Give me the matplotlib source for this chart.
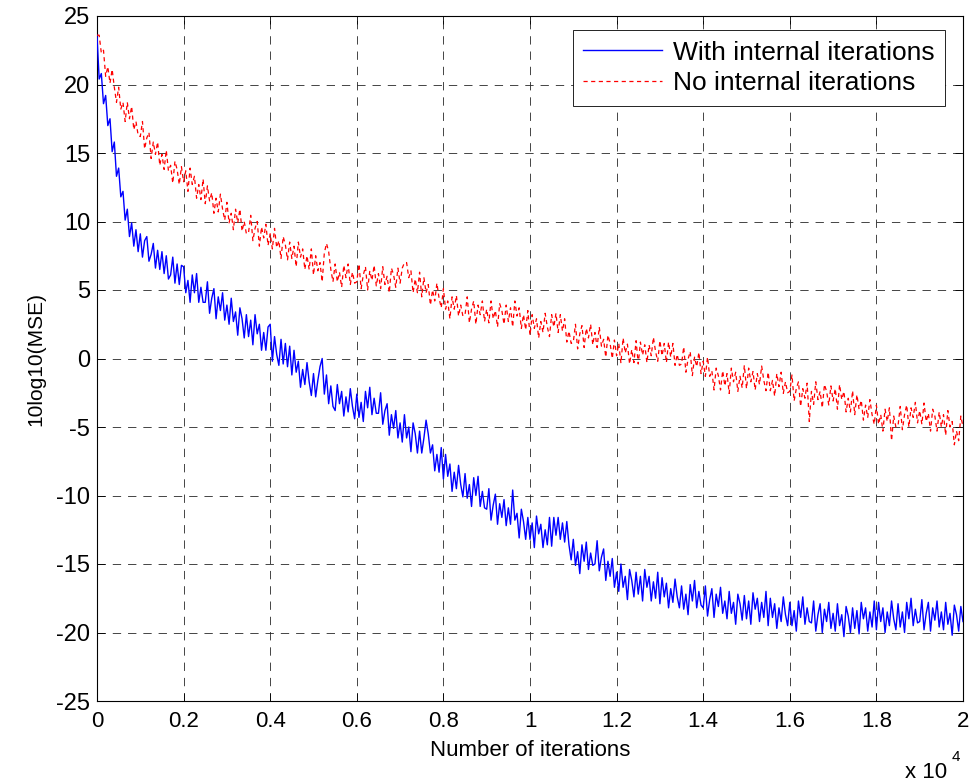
import matplotlib
matplotlib.use("Agg")
import matplotlib.pyplot as plt
import numpy as np

plt.rcParams['font.family'] = ['Liberation Sans', 'DejaVu Sans']
plt.rcParams['lines.scale_dashes'] = False
plt.rcParams['axes.unicode_minus'] = False

# Iteration index (one sample every 50 iterations)
iterations = np.arange(0, 20001, 50)

# 10log10(MSE) with internal iterations
with_internal = [
    23.6, 20.4, 20.8, 18.6, 19.2, 17.0, 17.5, 15.1, 15.8, 13.3,
    13.9, 11.8, 12.2, 10.1, 10.9, 8.9, 9.9, 8.2, 9.4, 7.8,
    9.1, 7.4, 8.6, 8.9, 7.1, 7.6, 8.4, 6.6, 7.9, 6.5,
    7.8, 6.2, 7.5, 5.8, 6.1, 7.4, 5.5, 6.9, 5.4, 6.8,
    6.7, 4.8, 5.7, 4.1, 6.1, 4.8, 6.2, 4.1, 5.2, 4.1,
    4.1, 5.6, 3.3, 4.4, 5.1, 2.9, 4.5, 3.5, 4.8, 2.8,
    3.9, 2.5, 4.4, 2.7, 3.4, 1.7, 3.7, 2.9, 1.5, 3.2,
    1.6, 2.8, 1.0, 3.2, 1.8, 2.5, 0.6, 1.9, 0.6, 2.3,
    2.5, -0.2, 1.6, 0.3, -0.5, 1.4, -0.4, 1.1, -0.6, 0.9,
    -1.2, 0.6, -1.0, -0.2, -2.1, -0.8, -1.9, -0.3, -1.7, -2.7,
    -1.1, -2.8, -1.6, -0.6, 0.0, -2.6, -1.2, -3.3, -2.0, -3.5,
    -3.8, -1.9, -3.3, -2.4, -4.2, -2.8, -3.9, -2.2, -3.5, -4.4,
    -2.6, -4.3, -3.2, -4.6, -2.4, -3.6, -2.1, -4.1, -2.9, -4.0,
    -4.0, -2.5, -4.8, -3.8, -3.3, -5.6, -4.1, -5.1, -3.8, -5.8,
    -4.7, -6.1, -4.1, -5.8, -5.0, -6.8, -4.7, -5.5, -6.9, -5.3,
    -6.9, -5.8, -4.5, -5.5, -6.9, -6.3, -8.2, -7.0, -8.3, -6.5,
    -8.8, -7.0, -8.6, -7.7, -9.7, -8.3, -9.5, -7.8, -9.2, -10.1,
    -8.4, -10.2, -9.2, -10.8, -8.7, -10.0, -8.6, -10.8, -9.7, -10.9,
    -11.0, -9.5, -11.8, -10.7, -9.9, -12.1, -10.6, -11.6, -10.3, -12.2,
    -10.9, -12.1, -9.6, -11.8, -11.3, -13.1, -11.0, -11.9, -13.2, -11.6,
    -13.2, -12.0, -13.8, -11.5, -12.8, -12.1, -13.8, -12.5, -13.6, -11.6,
    -13.7, -11.6, -12.9, -11.6, -13.2, -12.0, -13.4, -11.9, -13.6, -14.7,
    -13.2, -15.1, -14.1, -15.7, -13.6, -14.8, -13.4, -15.4, -14.2, -15.1,
    -15.0, -13.3, -15.5, -14.5, -13.9, -16.2, -14.8, -15.9, -14.6, -16.7,
    -15.6, -17.0, -15.0, -16.7, -15.9, -17.6, -15.4, -16.2, -17.4, -15.6,
    -17.2, -15.9, -17.7, -15.4, -16.7, -15.9, -17.7, -16.3, -17.5, -15.6,
    -17.9, -16.0, -17.4, -16.4, -18.2, -16.8, -17.8, -16.1, -17.4, -18.2,
    -16.6, -18.3, -17.2, -18.7, -16.5, -17.7, -16.2, -18.2, -17.0, -18.0,
    -18.2, -16.6, -18.8, -17.6, -16.8, -18.9, -17.2, -18.1, -16.7, -18.6,
    -17.7, -19.0, -17.0, -18.6, -17.8, -19.4, -17.2, -17.9, -19.1, -17.3,
    -19.0, -17.7, -19.4, -17.1, -18.3, -17.5, -19.2, -17.8, -18.9, -17.0,
    -19.5, -17.5, -18.9, -17.9, -19.7, -18.2, -19.2, -17.4, -18.7, -19.5,
    -17.8, -19.5, -18.4, -19.9, -17.7, -18.9, -17.4, -19.4, -18.2, -19.2,
    -19.3, -17.7, -19.9, -18.7, -17.9, -20.0, -18.3, -19.2, -17.8, -19.7,
    -18.6, -19.9, -17.9, -19.5, -18.7, -20.3, -18.1, -18.8, -20.0, -18.2,
    -19.7, -18.4, -20.1, -17.8, -19.0, -18.2, -19.9, -18.5, -19.6, -17.7,
    -19.8, -17.8, -19.2, -18.2, -20.0, -18.5, -19.5, -17.7, -19.0, -19.8,
    -17.9, -19.6, -18.5, -20.0, -17.8, -19.0, -17.5, -19.5, -18.3, -19.3,
    -19.2, -17.6, -19.8, -18.6, -17.8, -19.9, -18.2, -19.1, -17.7, -19.6,
    -18.5, -19.8, -17.8, -19.4, -18.6, -20.2, -18.0, -18.7, -19.9, -18.1,
    -19.2,
]

# 10log10(MSE) without internal iterations
no_internal = [
    23.6, 23.6, 22.3, 22.5, 20.6, 21.3, 20.1, 21.1, 19.8, 18.7,
    19.8, 18.2, 18.7, 17.3, 18.7, 17.5, 18.4, 16.7, 17.3, 16.3,
    16.2, 17.3, 15.3, 16.1, 16.5, 14.6, 15.8, 14.9, 15.8, 14.1,
    14.9, 13.8, 15.2, 13.7, 14.1, 12.8, 14.4, 13.8, 12.7, 14.0,
    12.9, 13.7, 12.2, 13.9, 12.7, 13.3, 11.7, 12.7, 11.6, 13.1,
    11.3, 12.6, 11.5, 12.1, 10.6, 11.7, 10.7, 12.0, 10.9, 10.1,
    11.4, 9.9, 10.6, 9.4, 10.9, 9.9, 10.9, 9.3, 10.0, 9.1,
    9.2, 10.45, 8.6, 9.5, 10.0, 8.2, 9.6, 8.8, 9.8, 8.25,
    9.1, 8.0, 9.5, 8.1, 8.6, 7.3, 8.9, 8.3, 7.2, 8.5,
    7.3, 8.2, 6.7, 8.5, 7.4, 8.0, 6.5, 7.5, 6.5, 8.0,
    6.1, 7.5, 6.4, 7.0, 5.6, 7.7, 8.4, 7.8, 6.5, 5.6,
    6.9, 5.6, 6.3, 5.2, 6.8, 5.9, 6.9, 5.4, 6.3, 5.5,
    5.6, 6.9, 5.1, 6.1, 6.7, 5.0, 6.4, 5.7, 6.8, 5.3,
    6.2, 5.1, 6.7, 5.4, 6.0, 4.8, 6.6, 6.1, 5.2, 6.6,
    5.5, 6.6, 7.0, 7.0, 5.9, 6.4, 4.8, 5.8, 4.8, 6.3,
    4.5, 5.9, 4.8, 5.4, 3.9, 5.0, 4.2, 5.5, 4.4, 3.7,
    5.1, 3.6, 4.2, 2.9, 4.5, 3.6, 4.6, 3.1, 3.9, 3.1,
    3.2, 4.5, 2.6, 3.6, 4.2, 2.5, 3.9, 3.2, 4.2, 2.7,
    3.6, 2.6, 4.2, 2.9, 3.5, 2.3, 4.0, 3.5, 2.5, 3.9,
    2.7, 3.7, 2.3, 4.2, 3.1, 3.7, 2.2, 3.2, 2.1, 3.5,
    1.7, 3.2, 2.2, 2.9, 1.5, 2.7, 1.9, 3.3, 2.3, 1.6,
    3.2, 2.3, 3.3, 1.9, 3.2, 2.0, 2.9, 1.2, 2.0, 1.1,
    1.2, 2.5, 0.7, 1.8, 2.4, 0.8, 2.2, 1.5, 2.5, 1.0,
    1.9, 0.8, 2.3, 0.9, 1.4, 0.1, 1.7, 1.1, 0.0, 1.35,
    0.2, 1.1, -0.35, 1.5, 0.4, 1.05, -0.4, 0.65, -0.3, 1.3,
    -0.4, 1.2, 0.25, 1.0, -0.3, 1.0, 0.2, 1.55, 0.5, -0.2,
    1.3, 0.2, 1.1, -0.3, 1.2, 0.1, 1.1, -0.5, 0.3, -0.5,
    -0.4, 0.85, -1.0, -0.05, 0.5, -1.25, 0.1, -0.6, 0.45, -1.1,
    -0.2, -1.3, 0.1, -1.3, -0.9, -2.3, -0.7, -1.25, -2.3, -0.9,
    -2.0, -1.1, -2.55, -0.7, -1.7, -1.0, -2.4, -1.3, -2.15, -0.5,
    -2.2, -0.7, -1.7, -0.95, -2.3, -1.1, -1.9, -0.55, -1.6, -2.35,
    -1.0, -2.35, -1.6, -2.75, -1.1, -2.05, -1.0, -2.55, -1.7, -2.5,
    -2.4, -1.2, -3.1, -2.2, -1.7, -3.5, -2.2, -2.9, -1.8, -4.6,
    -2.4, -3.35, -1.7, -3.0, -2.4, -3.6, -1.9, -2.4, -3.4, -2.0,
    -3.1, -2.2, -3.7, -1.9, -3.0, -2.4, -3.9, -2.9, -3.9, -2.35,
    -4.1, -2.65, -3.7, -3.05, -4.5, -3.4, -4.3, -3.0, -4.1, -4.8,
    -3.4, -4.8, -4.1, -5.3, -3.7, -4.6, -3.6, -6.0, -4.2, -5.0,
    -4.9, -3.5, -5.2, -4.1, -3.4, -5.0, -3.6, -4.3, -3.2, -4.7,
    -3.8, -4.8, -3.25, -4.6, -4.0, -5.3, -3.7, -4.2, -5.3, -3.9,
    -5.0, -4.1, -5.6, -3.8, -5.0, -4.6, -6.3, -5.3, -6.0, -4.2,
    -5.0,
]

x_tick_values = list(range(0, 20001, 2000))
x_tick_labels = ['0', '0.2', '0.4', '0.6', '0.8', '1', '1.2', '1.4', '1.6', '1.8', '2']
y_tick_values = list(range(-25, 26, 5))

W, H = 978, 784
fig = plt.figure(figsize=(W / 100, H / 100), dpi=100)
ax = fig.add_axes([97 / W, 1 - 701 / H, 866 / W, 685 / H])

ax.plot(iterations, with_internal, color='#0000ff', lw=1.0,
        label='With internal iterations', zorder=3)
ax.plot(iterations, no_internal, color='#ff0000', lw=0.9, ls=(0, (3, 2.5)),
        label='No internal iterations', zorder=3)

ax.set_xlim(0, 20000)
ax.set_ylim(-25, 25)
ax.set_xticks(x_tick_values)
ax.set_xticklabels(x_tick_labels)
ax.set_yticks(y_tick_values)
ax.tick_params(direction='in', top=True, right=True, length=6, width=0.6,
               colors='black')
ax.tick_params(axis='x', labelsize=16, pad=7)
ax.tick_params(axis='y', labelsize=17, pad=5)
ax.grid(True, color='0.15', ls=(0, (6, 5)), lw=0.6)
for s in ax.spines.values():
    s.set_linewidth(0.8)
    s.set_color('black')

ax.set_xlabel('Number of iterations', fontsize=16, labelpad=6)
ax.set_ylabel('10log10(MSE)', fontsize=15, labelpad=8)

fig.text(905 / W, 1 - 772 / H, 'x 10', fontsize=16, ha='left', va='center')
fig.text(952 / W, 1 - 757 / H, '4', fontsize=11, ha='left', va='center')

leg = ax.legend(loc='upper right', bbox_to_anchor=(945 / W, 1 - 30 / H),
                bbox_transform=fig.transFigure, borderaxespad=0,
                fontsize=19, handlelength=3.0, handletextpad=0.4,
                labelspacing=0.25, fancybox=False, framealpha=1,
                edgecolor='black', borderpad=0.4)
leg.get_frame().set_linewidth(0.6)

fig.savefig('out.png', dpi=100)
